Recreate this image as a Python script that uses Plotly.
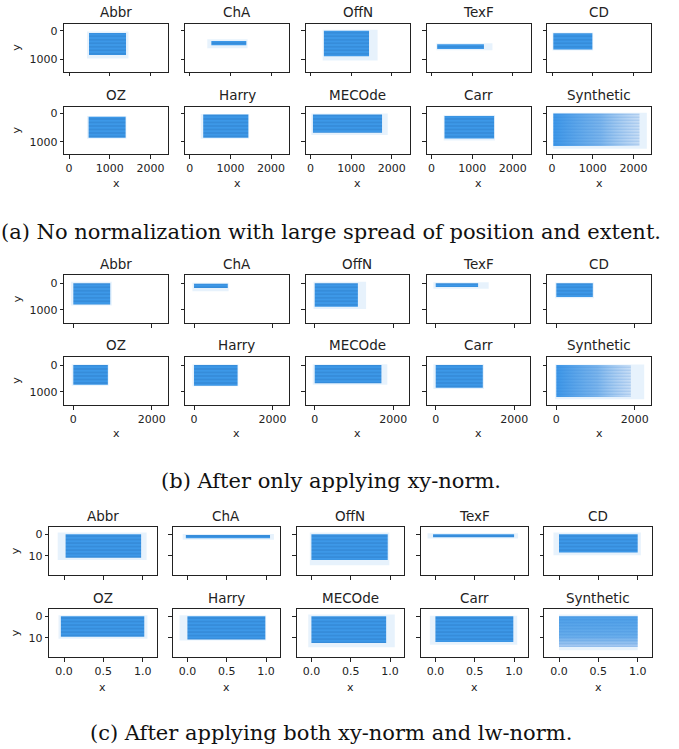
import plotly.graph_objects as go

W, H = 679, 749

DATASETS = ["Abbr", "ChA", "OffN", "TexF", "CD",
            "OZ", "Harry", "MECOde", "Carr", "Synthetic"]

# ---- (a) raw coordinates: dense core extent and sparse outer extent ----
A_X_LO = [490, 530, 330, 140, 30, 480, 330, 60, 320, 30]
A_X_HI = [1400, 1390, 1440, 1290, 990, 1390, 1440, 1760, 1540, 2150]
A_Y_LO = [80, 360, 0, 480, 90, 120, 40, 40, 90, 0]
A_Y_HI = [860, 510, 900, 650, 660, 860, 860, 680, 890, 1150]
A_SX_LO = [440, 430, 300, 120, 10, 440, 270, 20, 300, 20]
A_SX_HI = [1460, 1420, 1650, 1500, 1010, 1410, 1460, 1900, 1560, 2330]
A_SY_LO = [30, 300, -30, 440, 60, 90, 20, 0, 60, -20]
A_SY_HI = [980, 620, 1050, 690, 700, 900, 900, 760, 960, 1250]

# ---- (b) after xy-norm ----
B_X_LO = [0, 0, 0, 0, 0, 0, 0, 0, 0, 0]
B_X_HI = [940, 860, 1100, 1080, 930, 880, 1110, 1700, 1200, 1900]
B_Y_LO = [0, 20, 0, 0, 0, 0, 0, 0, 0, 0]
B_Y_HI = [790, 180, 880, 140, 510, 740, 780, 680, 850, 1200]
B_SX_LO = [-60, -40, -30, -60, -30, -40, -40, -50, -60, -30]
B_SX_HI = [980, 880, 1310, 1350, 960, 900, 1130, 1850, 1230, 2240]
B_SY_LO = [-60, -20, -60, -40, -30, -30, -30, -30, -30, -20]
B_SY_HI = [830, 300, 960, 200, 560, 780, 800, 740, 900, 1280]

# ---- (c) after xy-norm and lw-norm ----
C_X_LO = [0.02, -0.02, 0.0, -0.03, 0.0, -0.04, 0.0, 0.0, 0.0, 0.0]
C_X_HI = [0.98, 1.05, 0.97, 1.0, 1.0, 1.02, 0.99, 0.95, 0.99, 1.0]
C_Y_LO = [0, 0.3, 0, 0, 0, 0, 0, 0, 0, 0]
C_Y_HI = [11, 1.8, 12, 1.4, 8.5, 9.5, 10.8, 12.5, 12, 14.3]
C_SX_LO = [-0.08, -0.06, -0.02, -0.1, -0.07, -0.07, -0.1, -0.04, -0.07, 0.0]
C_SX_HI = [1.05, 1.1, 0.99, 1.05, 1.04, 1.06, 1.0, 1.06, 1.04, 1.0]
C_SY_LO = [-0.8, -0.2, -0.8, -0.5, -0.8, -0.5, -0.5, -0.8, -0.3, -0.8]
C_SY_HI = [12, 2.5, 14.5, 2, 9.8, 10.5, 11.3, 14.5, 13.3, 15.9]

A_XTICKS = [0, 1000, 2000]
B_XTICKS = [0, 2000]
C_XTICKS = [0.0, 0.5, 1.0]
C_XTICK_TEXT = ["0.0", "0.5", "1.0"]
AB_YTICKS = [0, 1000]
C_YTICKS = [0, 10]

CAPTIONS = [
    "(a) No normalization with large spread of position and extent.",
    "(b) After only applying xy-norm.",
    "(c) After applying both xy-norm and lw-norm.",
]

# layout of the three panels in pixels
PANELS = [
    dict(data=(A_X_LO, A_X_HI, A_Y_LO, A_Y_HI, A_SX_LO, A_SX_HI, A_SY_LO, A_SY_HI),
         lefts=[64.3, 185.0, 305.7, 426.7, 547.3], width=104.0,
         tops=[24.0, 106.7], height=47.7,
         xr=[-118, 2440], yr=[1449, -237],
         xt=A_XTICKS, xtt=[str(v) for v in A_XTICKS],
         yt=AB_YTICKS, ytt=[str(v) for v in AB_YTICKS],
         caption_y=232, xlab_y=183, ylab_x=17),
    dict(data=(B_X_LO, B_X_HI, B_Y_LO, B_Y_HI, B_SX_LO, B_SX_HI, B_SY_LO, B_SY_HI),
         lefts=[64.3, 185.0, 305.7, 426.7, 547.3], width=103.5,
         tops=[275.0, 356.7], height=48.3,
         xr=[-230, 2408], yr=[1499, -311],
         xt=B_XTICKS, xtt=[str(v) for v in B_XTICKS],
         yt=AB_YTICKS, ytt=[str(v) for v in AB_YTICKS],
         caption_y=481, xlab_y=433, ylab_x=17),
    dict(data=(C_X_LO, C_X_HI, C_Y_LO, C_Y_HI, C_SX_LO, C_SX_HI, C_SY_LO, C_SY_HI),
         lefts=[49.3, 172.7, 296.7, 420.7, 544.3], width=107.4,
         tops=[527.3, 609.3], height=47.8,
         xr=[-0.187, 1.178], yr=[19.06, -3.28],
         xt=C_XTICKS, xtt=C_XTICK_TEXT,
         yt=C_YTICKS, ytt=[str(v) for v in C_YTICKS],
         caption_y=733, xlab_y=687, ylab_x=15),
]

CORE = "rgba(38,140,228,0.88)"
STRIPE = "rgba(20,85,160,0.6)"
SPREAD = "rgba(70,155,232,0.13)"
INK = "#222222"
SANS = "DejaVu Sans"


def rect(x0, x1, y0, y1):
    return [x0, x1, x1, x0, x0], [y0, y0, y1, y1, y0]


fig = go.Figure()
layout = dict(width=W, height=H, margin=dict(l=0, r=0, t=0, b=0),
              paper_bgcolor="white", plot_bgcolor="white",
              showlegend=False, annotations=[])

n = 0
for p_i, P in enumerate(PANELS):
    xlo, xhi, ylo, yhi, sxlo, sxhi, sylo, syhi = P["data"]
    for k, name in enumerate(DATASETS):
        n += 1
        row, col = divmod(k, 5)
        left = P["lefts"][col]
        top = P["tops"][row]
        xa = "x" if n == 1 else f"x{n}"
        ya = "y" if n == 1 else f"y{n}"
        synthetic = name == "Synthetic"
        fade_right = synthetic and p_i < 2

        # sparse outer points
        sx, sy = rect(sxlo[k], sxhi[k], sylo[k], syhi[k])
        fig.add_trace(go.Scatter(x=sx, y=sy, xaxis=xa, yaxis=ya, mode="lines",
                                 fill="toself", fillcolor=SPREAD,
                                 line=dict(width=0), hoverinfo="skip"))
        # dense core of the points
        cx, cy = rect(xlo[k], xhi[k], ylo[k], yhi[k])
        if synthetic:
            if fade_right:
                grad = dict(type="horizontal",
                            colorscale=[[0, "rgba(45,142,230,0.92)"],
                                        [0.55, "rgba(95,165,232,0.8)"],
                                        [1, "rgba(175,205,240,0.55)"]])
            else:
                grad = dict(type="vertical",
                            colorscale=[[0, "rgba(150,190,238,0.75)"],
                                        [0.35, "rgba(80,160,232,0.85)"],
                                        [1, "rgba(60,150,230,0.9)"]])
            fig.add_trace(go.Scatter(x=cx, y=cy, xaxis=xa, yaxis=ya, mode="lines",
                                     fill="toself", fillgradient=grad,
                                     line=dict(width=0), hoverinfo="skip"))
            fig.add_trace(go.Scatter(x=cx, y=cy, xaxis=xa, yaxis=ya, mode="lines",
                                     fill="toself", fillcolor="rgba(0,0,0,0)",
                                     fillpattern=dict(shape="-", fgcolor="rgba(30,110,200,0.45)",
                                                      bgcolor="rgba(0,0,0,0)",
                                                      size=3, solidity=0.3),
                                     line=dict(width=0), hoverinfo="skip"))
        else:
            fig.add_trace(go.Scatter(x=cx, y=cy, xaxis=xa, yaxis=ya, mode="lines",
                                     fill="toself", fillcolor=CORE,
                                     fillpattern=dict(shape="-", fgcolor=STRIPE,
                                                      bgcolor=CORE, size=3.5,
                                                      solidity=0.3),
                                     line=dict(width=0), hoverinfo="skip"))

        xkey = "xaxis" if n == 1 else f"xaxis{n}"
        ykey = "yaxis" if n == 1 else f"yaxis{n}"
        common = dict(showline=True, mirror=True, linecolor=INK, linewidth=1,
                      ticks="outside", ticklen=3.5, tickwidth=1, tickcolor=INK,
                      showgrid=False, zeroline=False, fixedrange=True,
                      tickfont=dict(family=SANS, size=11, color=INK))
        layout[xkey] = dict(common, domain=[left / W, (left + P["width"]) / W],
                            anchor=ya, range=P["xr"],
                            tickmode="array", tickvals=P["xt"], ticktext=P["xtt"],
                            showticklabels=(row == 1))
        layout[ykey] = dict(common,
                            domain=[1 - (top + P["height"]) / H, 1 - top / H],
                            anchor=xa, range=P["yr"],
                            tickmode="array", tickvals=P["yt"], ticktext=P["ytt"],
                            showticklabels=(col == 0))

        # subplot title
        layout["annotations"].append(dict(
            text=name, x=(left + P["width"] / 2) / W, y=1 - (top - 11.5) / H,
            xref="paper", yref="paper", showarrow=False,
            xanchor="center", yanchor="middle",
            font=dict(family=SANS, size=13.5, color=INK)))
        if row == 1:
            layout["annotations"].append(dict(
                text="x", x=(left + P["width"] / 2) / W, y=1 - P["xlab_y"] / H,
                xref="paper", yref="paper", showarrow=False,
                xanchor="center", yanchor="middle",
                font=dict(family=SANS, size=11, color=INK)))
        if col == 0:
            layout["annotations"].append(dict(
                text="y", x=P["ylab_x"] / W, y=1 - (top + P["height"] / 2) / H,
                xref="paper", yref="paper", showarrow=False, textangle=-90,
                xanchor="center", yanchor="middle",
                font=dict(family=SANS, size=11, color=INK)))

    layout["annotations"].append(dict(
        text=CAPTIONS[p_i], x=0.4875, y=1 - P["caption_y"] / H,
        xref="paper", yref="paper", showarrow=False,
        xanchor="center", yanchor="middle",
        font=dict(family="DejaVu Serif", size=21, color="#111111")))

fig.update_layout(**layout)
fig.write_html("out.html")
